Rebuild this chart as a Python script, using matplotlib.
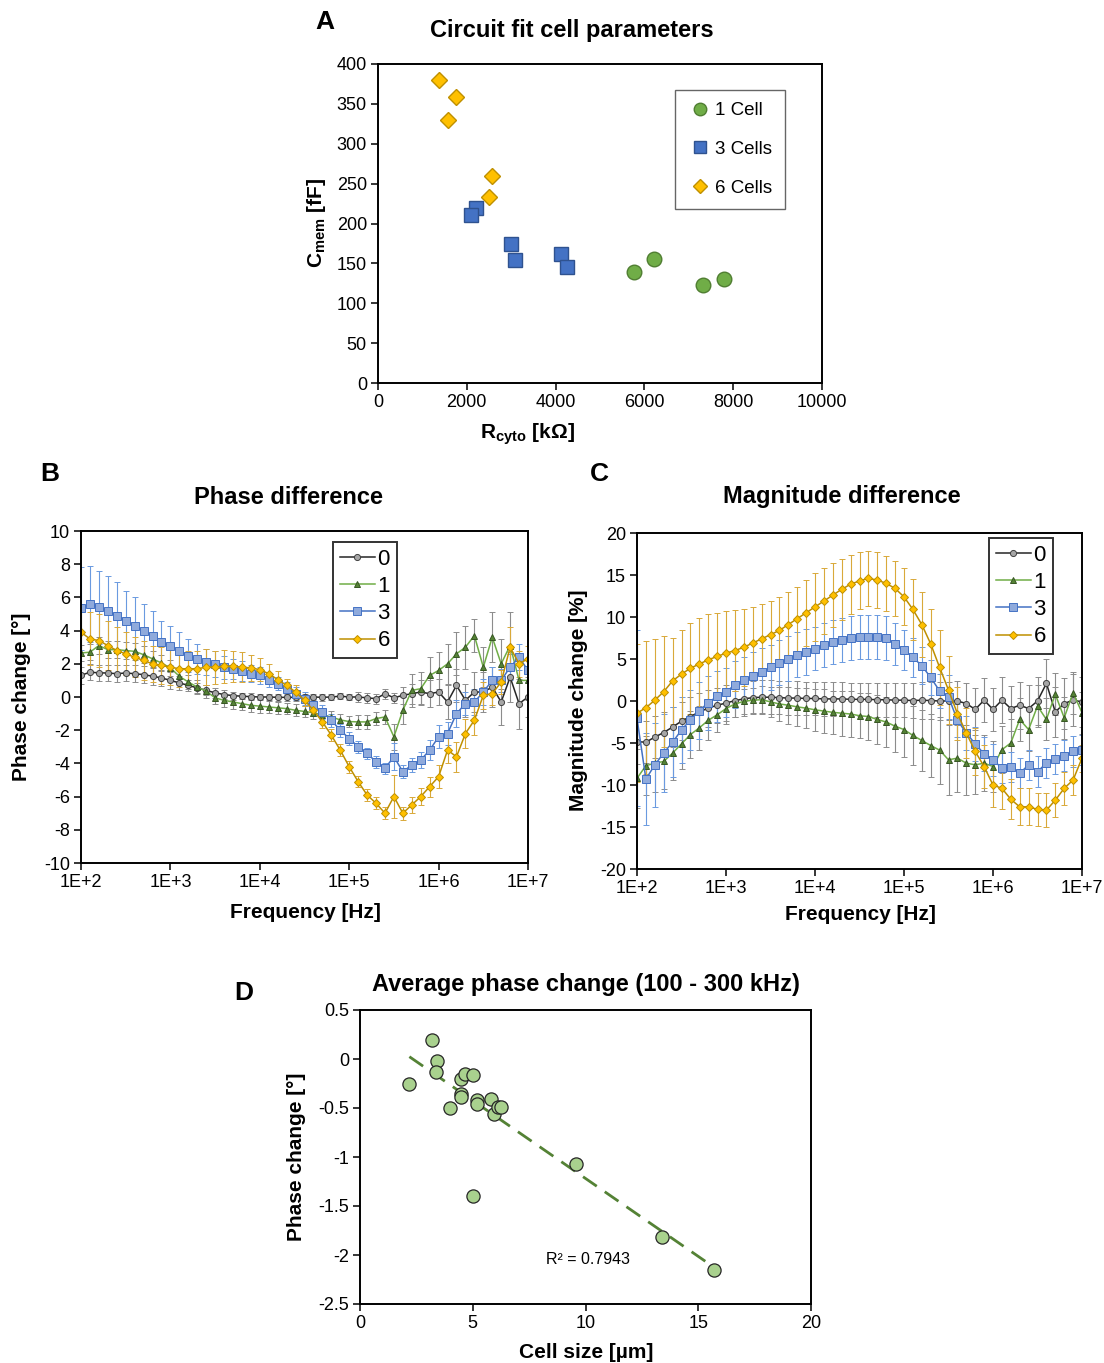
import numpy as np
import matplotlib
matplotlib.use("Agg")
import matplotlib.pyplot as plt
from matplotlib.lines import Line2D
from matplotlib.ticker import NullLocator

plt.rcParams['font.family'] = ['Liberation Sans', 'DejaVu Sans']
plt.rcParams['mathtext.fontset'] = 'custom'
plt.rcParams['mathtext.rm'] = 'Liberation Sans'
plt.rcParams['mathtext.bf'] = 'Liberation Sans:bold'
plt.rcParams['axes.unicode_minus'] = False

# ---------------- Panel A data ----------------
r_cyto_1 = [5771, 6221, 7328, 7787]
c_mem_1 = [139, 156, 123, 130]
r_cyto_3 = [2213, 2095, 2988, 3091, 4111, 4261]
c_mem_3 = [220, 210.5, 174, 154.7, 162, 146]
r_cyto_6 = [1383, 1763, 1573, 2569, 2490]
c_mem_6 = [380, 358, 330, 260, 233.5]
legend_a = ["1 Cell", "3 Cells", "6 Cells"]

# ---------------- Panels B & C data ----------------
log_freq = [2.0, 2.1, 2.2, 2.3, 2.4, 2.5, 2.6, 2.7, 2.8, 2.9,
            3.0, 3.1, 3.2, 3.3, 3.4, 3.5, 3.6, 3.7, 3.8, 3.9,
            4.0, 4.1, 4.2, 4.3, 4.4, 4.5, 4.6, 4.7, 4.8, 4.9,
            5.0, 5.1, 5.2, 5.3, 5.4, 5.5, 5.6, 5.7, 5.8, 5.9,
            6.0, 6.1, 6.2, 6.3, 6.4, 6.5, 6.6, 6.7, 6.8, 6.9, 7.0]
series_labels = ["0", "1", "3", "6"]

phase_0 = [1.3, 1.5, 1.45, 1.45, 1.4, 1.45, 1.4, 1.35, 1.25, 1.15,
           1.0, 0.85, 0.7, 0.55, 0.4, 0.25, 0.15, 0.08, 0.05, 0.02,
           0.0, 0.0, -0.02, -0.02, -0.02, -0.03, 0.0, -0.02, 0.0, 0.05,
           0.0, 0.0, -0.05, -0.1, 0.2, -0.05, 0.1, 0.2, 0.3, 0.2,
           0.3, -0.3, 0.7, -0.2, 0.3, 0.3, 0.6, -0.3, 1.2, -0.4, 0.0]
phase_0_err = [0.5, 0.5, 0.5, 0.5, 0.5, 0.5, 0.5, 0.5, 0.5, 0.5,
               0.5, 0.4, 0.35, 0.3, 0.3, 0.3, 0.25, 0.25, 0.2, 0.2,
               0.2, 0.2, 0.2, 0.2, 0.2, 0.2, 0.2, 0.2, 0.2, 0.2,
               0.2, 0.3, 0.3, 0.3, 0.3, 0.3, 0.5, 0.6, 0.7, 0.8,
               0.8, 1.0, 1.0, 1.0, 1.2, 1.2, 1.2, 1.4, 1.5, 1.5, 1.2]
phase_1 = [2.65, 2.7, 3.1, 2.85, 2.85, 2.8, 2.75, 2.55, 2.3, 2.05,
           1.75, 1.25, 0.9, 0.6, 0.35, -0.05, -0.2, -0.3, -0.4, -0.5,
           -0.55, -0.6, -0.65, -0.7, -0.8, -0.87, -0.95, -1.08, -1.2, -1.38,
           -1.48, -1.5, -1.5, -1.3, -1.2, -2.4, -0.8, 0.4, 0.5, 1.3,
           1.6, 2.0, 2.6, 3.0, 3.7, 1.8, 3.6, 2.0, 3.1, 1.0, 1.0]
phase_1_err = [0.5, 0.5, 0.5, 0.5, 0.5, 0.5, 0.5, 0.5, 0.5, 0.5,
               0.5, 0.4, 0.4, 0.4, 0.4, 0.4, 0.4, 0.4, 0.4, 0.4,
               0.4, 0.35, 0.35, 0.35, 0.35, 0.35, 0.35, 0.35, 0.35, 0.35,
               0.35, 0.4, 0.4, 0.4, 0.4, 0.8, 0.8, 1.0, 1.0, 1.1,
               1.1, 1.2, 1.3, 1.3, 1.0, 1.2, 1.5, 1.5, 2.0, 1.5, 1.2]
phase_3 = [5.36, 5.6, 5.4, 5.2, 4.9, 4.6, 4.3, 4.0, 3.7, 3.3,
           3.1, 2.8, 2.5, 2.3, 2.1, 2.0, 1.8, 1.7, 1.55, 1.4,
           1.3, 1.0, 0.8, 0.5, 0.2, -0.1, -0.5, -0.9, -1.4, -2.0,
           -2.5, -3.0, -3.4, -3.9, -4.3, -3.6, -4.5, -4.1, -3.8, -3.2,
           -2.4, -2.2, -1.0, -0.4, -0.3, 0.3, 1.0, 1.0, 1.8, 2.4, 1.6]
phase_3_err = [2.5, 2.3, 2.2, 2.1, 2.0, 1.8, 1.7, 1.6, 1.5, 1.3,
               1.2, 1.1, 1.0, 0.9, 0.8, 0.8, 0.7, 0.6, 0.6, 0.5,
               0.5, 0.4, 0.4, 0.4, 0.4, 0.4, 0.4, 0.4, 0.4, 0.4,
               0.4, 0.35, 0.35, 0.35, 0.35, 0.8, 0.4, 0.4, 0.5, 0.6,
               0.7, 0.7, 0.8, 0.7, 0.8, 0.8, 0.8, 0.7, 0.8, 0.8, 0.7]
phase_6 = [3.9, 3.5, 3.4, 3.1, 2.8, 2.6, 2.4, 2.2, 2.0, 1.9,
           1.8, 1.7, 1.7, 1.7, 1.8, 1.8, 1.85, 1.85, 1.8, 1.75,
           1.65, 1.4, 1.05, 0.7, 0.3, -0.2, -0.8, -1.5, -2.3, -3.2,
           -4.2, -5.1, -5.9, -6.4, -7.0, -6.0, -7.0, -6.5, -6.0, -5.4,
           -4.8, -3.2, -3.6, -2.2, -1.4, 0.1, 0.2, 0.9, 3.0, 2.0, 2.3]
phase_6_err = [1.4, 1.6, 1.6, 1.5, 1.4, 1.3, 1.2, 1.2, 1.1, 1.1,
               1.1, 1.1, 1.1, 1.1, 1.1, 1.0, 1.0, 0.95, 0.9, 0.8,
               0.7, 0.6, 0.5, 0.4, 0.4, 0.35, 0.35, 0.35, 0.35, 0.35,
               0.35, 0.35, 0.35, 0.35, 0.35, 1.3, 0.4, 0.5, 0.5, 0.6,
               0.7, 0.8, 0.9, 0.9, 0.9, 0.8, 0.7, 0.7, 1.2, 0.8, 0.8]

mag_0 = [-4.85, -4.9, -4.3, -3.75, -3.1, -2.4, -1.85, -1.3, -0.85, -0.5,
         -0.25, 0.05, 0.25, 0.4, 0.45, 0.45, 0.4, 0.35, 0.35, 0.3,
         0.3, 0.25, 0.25, 0.25, 0.2, 0.2, 0.2, 0.15, 0.15, 0.1,
         0.1, 0.05, 0.1, 0.05, 0.0, 0.0, 0.0, -0.3, -1.0, 0.1,
         -1.0, 0.1, -0.9, -0.5, -0.9, 0.0, 2.1, -1.3, -0.3, 0.1, -0.1]
mag_0_err = [2.6, 2.5, 2.5, 2.4, 2.4, 2.3, 2.3, 2.2, 2.2, 2.1,
             2.1, 2.0, 2.0, 2.0, 2.0, 2.0, 2.0, 2.0, 2.0, 2.0,
             2.0, 2.0, 2.0, 2.0, 2.0, 2.0, 2.0, 2.0, 2.0, 2.0,
             2.0, 2.1, 2.2, 2.2, 2.3, 2.3, 2.4, 2.5, 2.5, 2.6,
             2.6, 2.7, 2.7, 2.8, 2.8, 2.9, 2.9, 3.0, 3.0, 3.1, 3.0]
mag_1 = [-9.2, -7.7, -7.4, -7.2, -6.2, -5.1, -4.0, -3.2, -2.3, -1.65,
         -0.9, -0.35, -0.05, 0.1, 0.15, -0.1, -0.35, -0.5, -0.7, -0.85,
         -1.05, -1.2, -1.35, -1.45, -1.55, -1.75, -1.85, -2.2, -2.5, -3.0,
         -3.4, -4.1, -4.7, -5.3, -5.85, -7.0, -6.8, -7.4, -7.6, -7.4,
         -7.8, -5.8, -5.0, -2.2, -3.4, -0.6, -2.2, 0.8, -2.0, 1.0, -1.4]
mag_1_err = [3.5, 3.5, 3.4, 3.3, 3.2, 3.0, 2.8, 2.6, 2.3, 2.0,
             1.8, 1.6, 1.5, 1.5, 1.6, 1.8, 2.0, 2.2, 2.3, 2.4,
             2.5, 2.6, 2.6, 2.7, 2.7, 2.7, 2.8, 2.9, 3.0, 3.1,
             3.3, 3.5, 3.6, 3.8, 4.0, 4.2, 4.0, 3.8, 3.5, 3.3,
             3.0, 2.8, 2.8, 2.6, 2.6, 2.5, 2.5, 2.5, 2.5, 2.5, 2.5]
mag_3 = [-2.05, -9.3, -7.6, -6.2, -4.9, -3.45, -2.25, -1.15, -0.2, 0.55,
         1.05, 1.95, 2.45, 3.0, 3.5, 4.0, 4.55, 5.05, 5.5, 5.85,
         6.25, 6.7, 7.05, 7.3, 7.5, 7.6, 7.6, 7.6, 7.5, 6.8,
         6.1, 5.2, 4.2, 2.8, 1.2, 0.5, -2.3, -3.8, -5.1, -6.3,
         -7.0, -8.0, -7.9, -8.6, -7.6, -8.4, -7.4, -6.9, -6.5, -6.0, -5.8]
mag_3_err = [10.5, 5.5, 5.0, 4.6, 4.2, 3.9, 3.6, 3.4, 3.2, 3.0,
             2.9, 2.8, 2.8, 2.8, 2.8, 2.7, 2.7, 2.7, 2.7, 2.7,
             2.6, 2.6, 2.6, 2.6, 2.6, 2.6, 2.6, 2.6, 2.6, 2.5,
             2.4, 2.3, 2.2, 2.1, 2.0, 2.6, 2.0, 2.0, 2.0, 2.0,
             1.9, 1.8, 1.8, 1.8, 1.8, 1.8, 1.8, 1.8, 1.8, 1.8, 1.8]
mag_6 = [-1.45, -0.8, 0.1, 1.1, 2.4, 3.2, 3.9, 4.4, 4.9, 5.3,
         5.7, 6.0, 6.4, 6.9, 7.4, 7.9, 8.4, 9.1, 9.8, 10.5,
         11.2, 11.9, 12.6, 13.3, 13.9, 14.3, 14.6, 14.4, 14.0, 13.4,
         12.4, 10.9, 9.1, 6.8, 4.0, 1.3, -1.5, -3.8, -6.0, -7.8,
         -10.0, -10.4, -11.7, -12.6, -12.6, -12.9, -13.0, -11.8, -10.4, -9.4, -6.8]
mag_6_err = [8.2, 7.9, 7.3, 6.6, 5.1, 5.2, 5.4, 5.5, 5.4, 5.2,
             5.0, 4.8, 4.6, 4.3, 4.1, 4.0, 4.0, 3.9, 3.8, 3.9,
             4.0, 3.9, 3.8, 3.6, 3.5, 3.4, 3.3, 3.3, 3.3, 3.3,
             3.4, 3.6, 3.9, 4.2, 4.5, 4.0, 3.2, 3.0, 2.8, 2.6,
             2.6, 2.4, 2.4, 2.2, 2.2, 2.0, 2.0, 2.0, 2.0, 1.8, 1.6]

freq_ticks = [1e2, 1e3, 1e4, 1e5, 1e6, 1e7]
freq_tick_labels = ["1E+2", "1E+3", "1E+4", "1E+5", "1E+6", "1E+7"]

# ---------------- Panel D data ----------------
cell_size = [2.19, 3.21, 3.40, 3.37, 4.0, 4.47, 4.48, 4.49, 4.65, 5.0,
             5.19, 5.19, 5.79, 5.95, 6.11, 6.24, 5.0, 9.59, 13.4, 15.7]
avg_phase = [-0.252, 0.194, -0.017, -0.136, -0.50, -0.36, -0.39, -0.208, -0.15, -0.16,
             -0.416, -0.457, -0.406, -0.563, -0.49, -0.49, -1.394, -1.074, -1.817, -2.155]
r2_text = "R² = 0.7943"

# ---------------- Figure ----------------
W, H = 1104, 1363
fig = plt.figure(figsize=(W / 100, H / 100), dpi=100)


def rect(l, t, r, b):
    return [l / W, 1 - b / H, (r - l) / W, (b - t) / H]


def fx(x):
    return x / W


def fy(y):
    return 1 - y / H


def style_axes(ax, tick_fs=13):
    for s in ax.spines.values():
        s.set_linewidth(1.4)
        s.set_color('black')
    ax.tick_params(direction='out', length=5, width=1.1, labelsize=tick_fs, pad=3)


TICK_FS = 13
LABEL_FS = 15
TITLE_FS = 17
LETTER_FS = 19

# ---- Panel A ----
axA = fig.add_axes(rect(378, 64, 822, 383))
axA.plot(r_cyto_1, c_mem_1, 'o', ms=10.5, mfc='#70ad47', mec='#507e32', mew=1.0, ls='none')
axA.plot(r_cyto_3, c_mem_3, 's', ms=10.5, mfc='#4472c4', mec='#2f528f', mew=1.0, ls='none')
axA.plot(r_cyto_6, c_mem_6, 'D', ms=8, mfc='#ffc000', mec='#bf9000', mew=1.0, ls='none')
axA.set_xlim(0, 10000)
axA.set_ylim(0, 400)
axA.set_xticks(np.arange(0, 10001, 2000))
axA.set_yticks(np.arange(0, 401, 50))
style_axes(axA, TICK_FS)
hA = [Line2D([], [], marker='o', ms=9, mfc='#70ad47', mec='#507e32', ls='none'),
      Line2D([], [], marker='s', ms=9, mfc='#4472c4', mec='#2f528f', ls='none'),
      Line2D([], [], marker='D', ms=7, mfc='#ffc000', mec='#bf9000', ls='none')]
legA = axA.legend(hA, legend_a, loc='upper left', bbox_to_anchor=(fx(675), fy(90)),
                  bbox_transform=fig.transFigure, borderaxespad=0, fontsize=13.5,
                  frameon=True, fancybox=False, edgecolor='#404040', handlelength=1.4,
                  handletextpad=0.1, labelspacing=1.15, borderpad=0.65)
legA.get_frame().set_linewidth(1.0)
fig.text(fx(325), fy(22), 'A', fontsize=LETTER_FS, fontweight='bold', ha='center', va='center')
fig.text(fx(572), fy(30), 'Circuit fit cell parameters', fontsize=TITLE_FS, fontweight='bold',
         ha='center', va='center')
fig.text(fx(527), fy(434), r'R$_{\mathbf{cyto}}$ [kΩ]', fontsize=LABEL_FS, fontweight='bold',
         ha='center', va='center')
fig.text(fx(316), fy(223), r'C$_{\mathbf{mem}}$ [fF]', fontsize=LABEL_FS, fontweight='bold',
         ha='center', va='center', rotation=90)

# ---- Panels B and C ----
freq = 10 ** np.array(log_freq)
styles = [
    dict(color='#262626', marker='o', ms=4.4, mfc='#a6a6a6', mec='#404040', ecolor='#8c8c8c'),
    dict(color='#70ad47', marker='^', ms=4.8, mfc='#548235', mec='#375623', ecolor='#8c8c8c'),
    dict(color='#4472c4', marker='s', ms=5.4, mfc='#8faadc', mec='#4472c4', ecolor='#6a9ae0'),
    dict(color='#bf9000', marker='D', ms=3.8, mfc='#ffc000', mec='#bf9000', ecolor='#d9a93a'),
]


def draw_freq_panel(ax, vals, errs, ylim, yticks):
    for v, e, st in zip(vals, errs, styles):
        ax.errorbar(freq, v, yerr=e, fmt='-', lw=1.1, color=st['color'], marker=st['marker'],
                    ms=st['ms'], mfc=st['mfc'], mec=st['mec'], mew=0.7, ecolor=st['ecolor'],
                    elinewidth=0.8, capsize=2.5, capthick=0.8)
    ax.set_xscale('log')
    ax.set_xlim(1e2, 1e7)
    ax.set_ylim(*ylim)
    ax.set_xticks(freq_ticks)
    ax.set_xticklabels(freq_tick_labels)
    ax.xaxis.set_minor_locator(NullLocator())
    ax.set_yticks(yticks)
    style_axes(ax, TICK_FS)


def freq_legend(ax, x, y):
    handles = [Line2D([], [], color=st['color'], lw=1.1, marker=st['marker'], ms=st['ms'],
                      mfc=st['mfc'], mec=st['mec'], mew=0.7) for st in styles]
    leg = ax.legend(handles, series_labels, loc='upper left', bbox_to_anchor=(fx(x), fy(y)),
                    bbox_transform=fig.transFigure, borderaxespad=0, fontsize=16,
                    frameon=True, fancybox=False, edgecolor='black', handlelength=1.6,
                    handletextpad=0.1, labelspacing=0.28, borderpad=0.3)
    leg.get_frame().set_linewidth(1.4)


axB = fig.add_axes(rect(81, 531, 528, 863))
draw_freq_panel(axB, [phase_0, phase_1, phase_3, phase_6],
                [phase_0_err, phase_1_err, phase_3_err, phase_6_err],
                (-10, 10), np.arange(-10, 11, 2))
freq_legend(axB, 333, 542)
fig.text(fx(50), fy(474), 'B', fontsize=LETTER_FS, fontweight='bold', ha='center', va='center')
fig.text(fx(288), fy(497), 'Phase difference', fontsize=TITLE_FS, fontweight='bold',
         ha='center', va='center')
fig.text(fx(305), fy(913), 'Frequency [Hz]', fontsize=LABEL_FS, fontweight='bold',
         ha='center', va='center')
fig.text(fx(22), fy(697), 'Phase change [°]', fontsize=LABEL_FS, fontweight='bold',
         ha='center', va='center', rotation=90)

axC = fig.add_axes(rect(637, 533, 1082, 869))
draw_freq_panel(axC, [mag_0, mag_1, mag_3, mag_6],
                [mag_0_err, mag_1_err, mag_3_err, mag_6_err],
                (-20, 20), np.arange(-20, 21, 5))
freq_legend(axC, 989, 538)
fig.text(fx(599), fy(474), 'C', fontsize=LETTER_FS, fontweight='bold', ha='center', va='center')
fig.text(fx(842), fy(497), 'Magnitude difference', fontsize=TITLE_FS, fontweight='bold',
         ha='center', va='center')
fig.text(fx(860), fy(915), 'Frequency [Hz]', fontsize=LABEL_FS, fontweight='bold',
         ha='center', va='center')
fig.text(fx(578), fy(700), 'Magnitude change [%]', fontsize=LABEL_FS, fontweight='bold',
         ha='center', va='center', rotation=90)

# ---- Panel D ----
axD = fig.add_axes(rect(360, 1010, 811, 1304))
xs = np.array(cell_size)
ys = np.array(avg_phase)
slope, intercept = np.polyfit(xs, ys, 1)
xl = np.array([xs.min(), xs.max()])
axD.plot(xl, slope * xl + intercept, color='#548235', lw=2.0, ls=(0, (6, 3.5)), zorder=1)
axD.plot(xs, ys, 'o', ms=9.5, mfc='#a9d18e', mec='#262626', mew=0.9, ls='none', zorder=2)
axD.set_xlim(0, 20)
axD.set_ylim(-2.5, 0.5)
axD.set_xticks([0, 5, 10, 15, 20])
yt = [0.5, 0, -0.5, -1, -1.5, -2, -2.5]
axD.set_yticks(yt)
axD.set_yticklabels(['%g' % v for v in yt])
style_axes(axD, TICK_FS)
axD.text(10.1, -2.05, r2_text, fontsize=11.5, ha='center', va='center')
fig.text(fx(244), fy(993), 'D', fontsize=LETTER_FS, fontweight='bold', ha='center', va='center')
fig.text(fx(586), fy(985), 'Average phase change (100 - 300 kHz)', fontsize=TITLE_FS,
         fontweight='bold', ha='center', va='center')
fig.text(fx(586), fy(1352), 'Cell size [µm]', fontsize=LABEL_FS, fontweight='bold',
         ha='center', va='center')
fig.text(fx(296), fy(1157), 'Phase change [°]', fontsize=LABEL_FS, fontweight='bold',
         ha='center', va='center', rotation=90)

fig.savefig('out.png', dpi=100)
